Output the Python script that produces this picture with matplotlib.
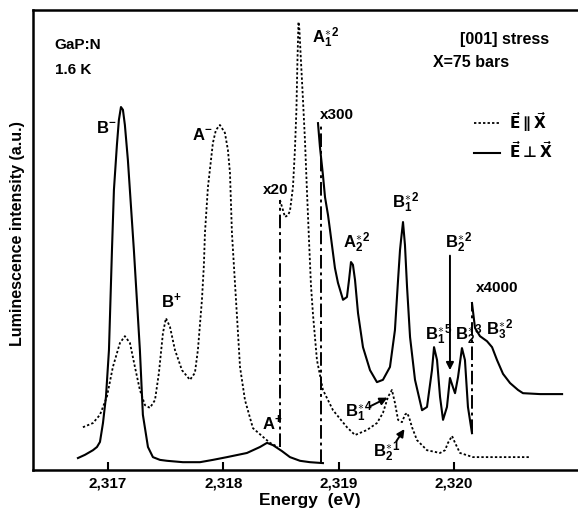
import numpy as np
import matplotlib.pyplot as plt
from matplotlib.lines import Line2D
from matplotlib.font_manager import FontProperties

plt.rcParams['font.family'] = ['Liberation Sans', 'DejaVu Sans']
plt.rcParams['font.weight'] = 'bold'
plt.rcParams['mathtext.fontset'] = 'custom'
plt.rcParams['mathtext.rm'] = 'Liberation Sans:bold'
plt.rcParams['mathtext.bf'] = 'Liberation Sans:bold'
plt.rcParams['mathtext.it'] = 'Liberation Sans:bold'
plt.rcParams['mathtext.sf'] = 'Liberation Sans:bold'
plt.rcParams['mathtext.default'] = 'bf'
plt.rcParams['mathtext.fallback'] = 'cm'

E0 = 2.317  # eV; all energies below are meV above E0

# E // X (dotted), gain x1 then x20
par_x1_mev = [-0.217, -0.130, -0.069, -0.009, 0.043, 0.104, 0.147, 0.191, 0.234, 0.277,
              0.321, 0.364, 0.408, 0.442, 0.477, 0.503, 0.538, 0.581, 0.642, 0.711,
              0.754, 0.780, 0.815, 0.832, 0.841, 0.867, 0.910, 0.936, 0.971, 1.014,
              1.040, 1.058, 1.075, 1.084, 1.119, 1.145, 1.188, 1.257, 1.344, 1.405, 1.474]
par_x1_int = [9.3, 10.2, 12.0, 15.9, 22.4, 27.6, 29.1, 27.6, 22.4, 17.4,
              14.1, 13.5, 15.2, 21.1, 29.8, 33.0, 31.1, 26.1, 21.7, 19.6,
              21.1, 26.1, 37.0, 44.6, 51.5, 61.5, 71.1, 73.9, 75.0, 73.3,
              69.6, 64.6, 51.5, 47.8, 33.3, 22.4, 15.2, 9.1, 7.2, 5.9, 5.0]

par_x20_mev = [1.491, 1.509, 1.535, 1.561, 1.578, 1.604, 1.621, 1.634, 1.643, 1.652,
               1.660, 1.673, 1.691, 1.708, 1.725, 1.743, 1.760, 1.778, 1.812, 1.864,
               1.951, 2.072, 2.142, 2.246, 2.332, 2.384, 2.428, 2.462, 2.488, 2.515,
               2.549, 2.575, 2.593, 2.610, 2.636, 2.679, 2.766, 2.879, 2.922, 2.948,
               2.983, 3.009, 3.052, 3.165, 3.373, 3.659]
par_x20_int = [58.7, 57.2, 55.0, 55.4, 56.3, 61.5, 69.6, 78.3, 89.1, 97.4,
               95.7, 89.1, 80.4, 71.7, 60.9, 50.0, 40.2, 33.7, 23.9, 17.4,
               13.0, 9.3, 7.6, 8.7, 10.2, 12.4, 15.9, 17.4, 14.6, 10.9,
               10.4, 12.0, 12.4, 11.5, 9.3, 6.5, 4.3, 3.7, 4.3, 5.9,
               7.4, 5.9, 3.7, 2.8, 2.8, 2.8]

# E perp X (solid), gain x1, x300, x4000
perp_x1_mev = [-0.260, -0.199, -0.130, -0.095, -0.069, -0.043, -0.017, 0.009, 0.035, 0.052,
               0.078, 0.095, 0.113, 0.130, 0.147, 0.173, 0.199, 0.225, 0.251, 0.277,
               0.303, 0.347, 0.390, 0.451, 0.512, 0.650, 0.798, 0.910, 1.032, 1.205,
               1.318, 1.379, 1.431, 1.509, 1.578, 1.665, 1.751, 1.864]
perp_x1_int = [2.6, 3.3, 4.3, 5.0, 6.1, 10.2, 15.9, 26.1, 47.8, 60.9,
               70.7, 76.1, 78.9, 78.3, 75.0, 67.4, 57.6, 47.8, 37.0, 26.1,
               12.0, 5.0, 2.8, 2.2, 2.0, 1.7, 1.7, 2.2, 2.8, 3.7,
               5.0, 5.9, 5.4, 4.1, 2.8, 2.0, 1.7, 1.5]

perp_x300_mev = [1.821, 1.838, 1.864, 1.882, 1.908, 1.925, 1.942, 1.968, 1.994, 2.038,
                 2.072, 2.090, 2.107, 2.124, 2.142, 2.168, 2.211, 2.272, 2.332, 2.384,
                 2.445, 2.488, 2.515, 2.532, 2.541, 2.558, 2.575, 2.593, 2.619, 2.662,
                 2.723, 2.766, 2.809, 2.827, 2.853, 2.879, 2.905, 2.939, 2.965, 2.991,
                 3.009, 3.035, 3.069, 3.095, 3.121, 3.156]
perp_x300_int = [75.4, 70.2, 64.1, 59.3, 55.4, 52.2, 48.9, 43.9, 40.7, 37.0,
                 37.6, 41.3, 45.2, 44.6, 41.3, 34.1, 26.7, 21.7, 19.1, 19.6,
                 22.4, 30.4, 41.3, 47.8, 50.0, 53.9, 48.9, 39.8, 28.9, 19.6,
                 13.0, 13.7, 21.7, 26.7, 23.9, 15.9, 10.9, 13.7, 20.0, 18.0,
                 16.7, 20.2, 26.5, 23.9, 13.7, 8.0]

perp_x4000_mev = [3.156, 3.182, 3.225, 3.286, 3.330, 3.373, 3.425, 3.486, 3.555, 3.598, 3.746, 3.937]
perp_x4000_int = [36.3, 30.9, 29.1, 28.0, 26.7, 23.9, 20.9, 18.9, 17.4, 16.7, 16.5, 16.5]

# gain changes: position (meV), bottom and top of the jump
gain_mev = [1.49, 1.85, 3.156]
gain_lo = [5.0, 1.5, 8.0]
gain_hi = [58.7, 75.4, 36.3]
gain_text = ['x20', 'x300', 'x4000']

tick_ev = [2.317, 2.318, 2.319, 2.320]
tick_labels = ['2,317', '2,318', '2,319', '2,320']


def ev(mev):
    return E0 + np.asarray(mev) / 1000.0


dotted = (0, (1.3, 1.2))
dashdot = (0, (7, 2, 1.5, 2))

fig = plt.figure(figsize=(5.78, 5.14), dpi=100)
ax = fig.add_axes([0.057, 0.0856, 0.943, 0.895])

ax.plot(ev(par_x1_mev), par_x1_int, color='k', lw=1.3, ls=dotted)
ax.plot(ev(par_x20_mev), par_x20_int, color='k', lw=1.3, ls=dotted)
ax.plot(ev(perp_x1_mev), perp_x1_int, color='k', lw=1.5)
ax.plot(ev(perp_x300_mev), perp_x300_int, color='k', lw=1.5)
ax.plot(ev(perp_x4000_mev), perp_x4000_int, color='k', lw=1.5)
ax.vlines(ev(gain_mev), gain_lo, gain_hi, colors='k', lw=1.4, linestyles=[dashdot])

ax.set_xlim(ev(-0.65), ev(4.075))
ax.set_ylim(0, 100)
ax.set_yticks([])
ax.set_xticks(tick_ev)
ax.set_xticklabels(tick_labels)
ax.tick_params(axis='x', direction='in', length=6, width=1.5, pad=5, labelsize=11)
for s in ['left', 'top', 'bottom']:
    ax.spines[s].set_linewidth(1.8)
ax.spines['right'].set_visible(False)

fig.text(18 / 578, 1 - 234 / 514, 'Luminescence intensity (a.u.)', rotation=90,
         ha='center', va='center', fontsize=11.5, fontweight='bold')
fig.text(310 / 578, 1 - 500 / 514, 'Energy  (eV)', ha='center', va='center',
         fontsize=12.5, fontweight='bold')

# header texts
ax.text(ev(-0.46), 92.4, 'GaP:N', fontsize=11, va='center')
ax.text(ev(-0.46), 87.0, '1.6 K', fontsize=11, va='center')
ax.text(ev(3.052), 93.5, '[001] stress', fontsize=11.5, va='center')
ax.text(ev(2.818), 88.5, 'X=75 bars', fontsize=11.5, va='center')

# gain labels
ax.text(ev(1.457), 60.9, gain_text[0], fontsize=11, ha='center', va='center')
ax.text(ev(1.986), 77.2, gain_text[1], fontsize=11, ha='center', va='center')
ax.text(ev(3.373), 39.6, gain_text[2], fontsize=11, ha='center', va='center')

# peak labels (left, baseline)
peak_labels = [
    (-0.104, 73.3, r'$B^{-}$'),
    (0.728, 71.7, r'$A^{-}$'),
    (0.460, 35.2, r'$B^{+}$'),
    (1.335, 8.7, r'$A^{+}$'),
    (1.769, 92.8, r'$A_{1}^{\ast\,2}$'),
    (2.038, 48.3, r'$A_{2}^{\ast\,2}$'),
    (2.462, 57.0, r'$B_{1}^{\ast\,2}$'),
    (2.922, 48.3, r'$B_{2}^{\ast\,2}$'),
    (2.749, 28.3, r'$B_{1}^{\ast\,5}$'),
    (3.009, 28.3, r'$B_{2}^{\ast\,3}$'),
    (3.278, 29.3, r'$B_{3}^{\ast\,2}$'),
    (2.055, 11.5, r'$B_{1}^{\ast\,4}$'),
    (2.298, 2.8, r'$B_{2}^{\ast\,1}$'),
]
for x, y, s in peak_labels:
    ax.text(ev(x), y, s, fontsize=12, ha='left', va='baseline')

arrow = dict(arrowstyle='-|>', color='k', lw=1.4, mutation_scale=11)
ax.annotate('', xy=(ev(2.965), 21.1), xytext=(ev(2.965), 47.2), arrowprops=arrow)
ax.annotate('', xy=(ev(2.445), 16.0), xytext=(ev(2.254), 13.6), arrowprops=arrow)
ax.annotate('', xy=(ev(2.584), 9.4), xytext=(ev(2.488), 5.8), arrowprops=arrow)

handles = [Line2D([], [], color='k', lw=1.3, ls=dotted),
           Line2D([], [], color='k', lw=1.5)]
labels = [r'$\vec{\mathbf{E}}\,\!\parallel\!\,\vec{\mathbf{X}}$',
          r'$\vec{\mathbf{E}}\,\!\bot\!\,\vec{\mathbf{X}}$']
leg_font = FontProperties(family='DejaVu Sans', weight='bold', size=11,
                          math_fontfamily='dejavusans')
ax.legend(handles, labels, loc='upper left', bbox_to_anchor=(0.795, 0.80),
          frameon=False, prop=leg_font, handlelength=1.7, handletextpad=0.6,
          labelspacing=0.45, borderpad=0)

fig.savefig('out.png', dpi=100)
